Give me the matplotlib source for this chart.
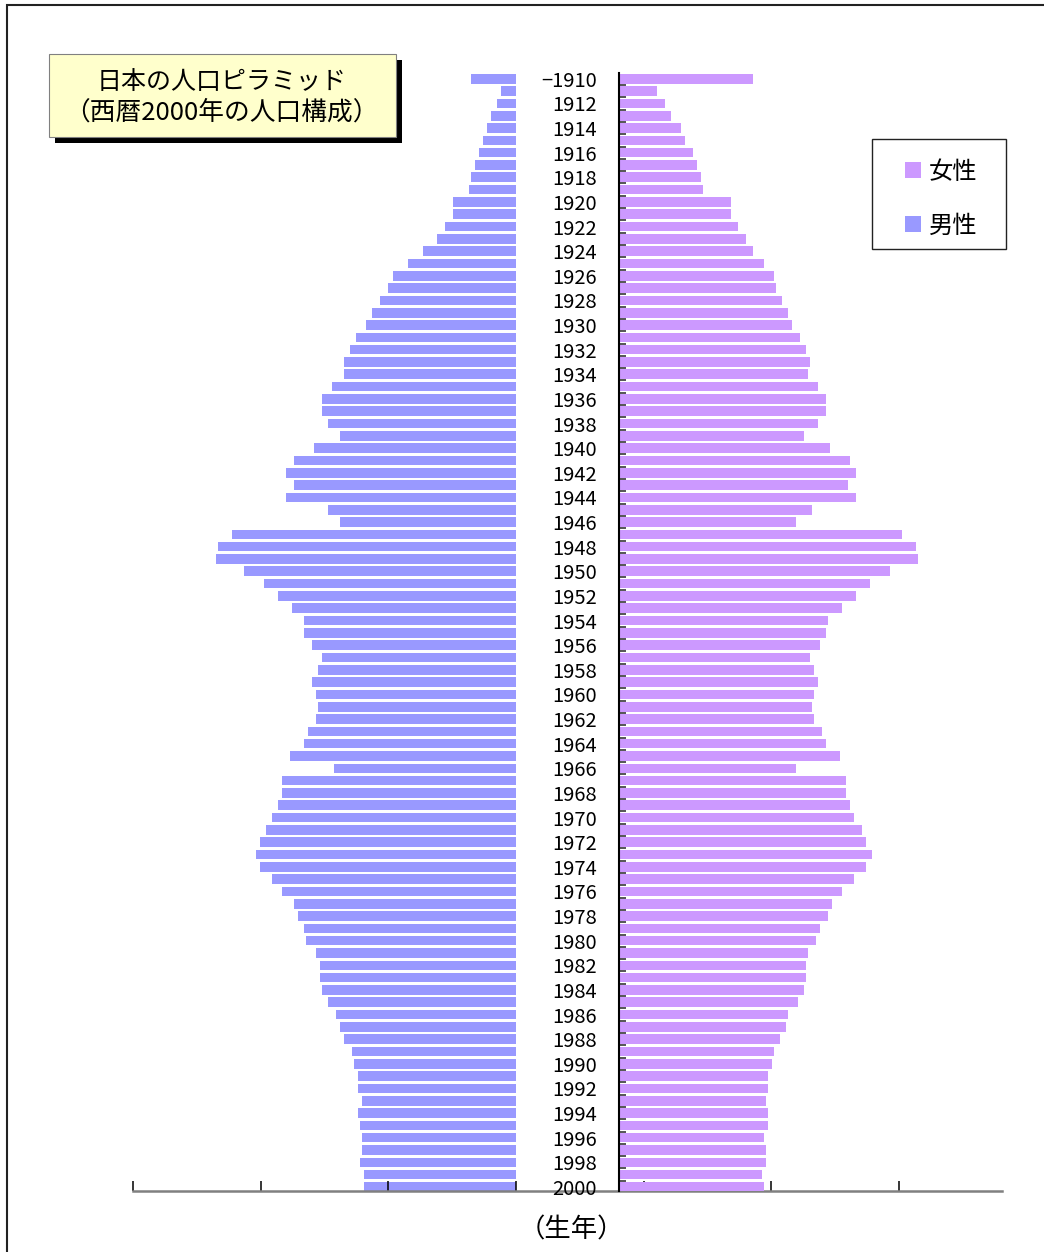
import numpy as np
import matplotlib
matplotlib.use("Agg")
from matplotlib import pyplot as plt
from matplotlib.patches import Rectangle

plt.rcParams['font.family'] = ['Noto Sans CJK JP', 'DejaVu Sans']

# birth year categories: "-1910" means 1910 and earlier
years = ["−1910"] + [str(y) for y in range(1911, 2001)]

# population in 2000 by birth year (thousands)
male = [176, 59, 74, 98, 113, 129, 144, 160, 176, 183,
        246, 246, 277, 308, 363, 425, 480, 503, 534, 566,
        589, 628, 651, 675, 675, 722, 761, 761, 737, 690,
        792, 870, 901, 870, 901, 737, 690, 1112, 1166, 1174,
        1065, 987, 932, 878, 831, 831, 800, 761, 776, 800,
        784, 776, 784, 815, 831, 885, 714, 917, 917, 932,
        956, 979, 1002, 1018, 1002, 956, 917, 870, 854, 831,
        823, 784, 768, 768, 761, 737, 706, 690, 675, 644,
        636, 620, 620, 605, 620, 612, 605, 605, 612, 597,
        597]
female = [523, 148, 179, 203, 242, 257, 289, 304, 320, 328,
          437, 437, 468, 499, 523, 569, 608, 616, 640, 663,
          679, 710, 733, 749, 741, 780, 811, 811, 780, 725,
          827, 905, 928, 897, 928, 757, 694, 1108, 1162, 1170,
          1061, 983, 928, 874, 819, 811, 788, 749, 764, 780,
          764, 757, 764, 796, 811, 866, 694, 889, 889, 905,
          920, 952, 967, 991, 967, 920, 874, 835, 819, 788,
          772, 741, 733, 733, 725, 702, 663, 655, 632, 608,
          601, 585, 585, 577, 585, 585, 569, 577, 577, 562,
          569]

male_color = '#9999FF'
female_color = '#CC99FF'

W, H = 1044, 1252


def fx(x):
    return x / W


def fy(y):
    return 1 - y / H


fig = plt.figure(figsize=(W / 100, H / 100), dpi=100)

rows = np.arange(len(years))
ylim = (len(years) - 1 + 0.33, -0.47)

# main axes: males to the left of zero, carries the bottom axis line and ticks
ax = fig.add_axes([fx(133), fy(1191), (1002 - 133) / W, (1191 - 73) / H])
ax.barh(rows, -np.array(male), height=0.78, color=male_color, label='男性')
ax.set_xlim(-1500, 1903)
ax.set_ylim(*ylim)
for s in ['left', 'right', 'top']:
    ax.spines[s].set_visible(False)
ax.spines['bottom'].set_color('#808080')
ax.spines['bottom'].set_linewidth(1.8)
ax.set_xticks(np.arange(-1500, 1501, 500))
ax.set_xticklabels([])
ax.tick_params(axis='x', direction='in', length=7, width=1.1, color='black')
ax.set_yticks([])

# year labels in the gap between the two halves
for i, label in enumerate(years):
    if i % 2 == 0:
        ax.text(317, i + 0.2, label, ha='right', va='center', fontsize=14.5, color='black')

# female axes: right half with its own vertical axis
axf = fig.add_axes([fx(619), fy(1191), (1002 - 619) / W, (1191 - 73) / H])
axf.patch.set_visible(False)
axf.barh(rows, female, height=0.78, color=female_color, label='女性')
axf.set_xlim(0, 1500)
axf.set_ylim(*ylim)
for s in ['right', 'top', 'bottom']:
    axf.spines[s].set_visible(False)
axf.spines['left'].set_color('black')
axf.spines['left'].set_linewidth(1.5)
axf.set_xticks([])
axf.set_yticks(rows[:-1] + 0.5)
axf.set_yticklabels([])
axf.tick_params(axis='y', direction='in', length=5, width=1.4, color='#555555')

# outer frame
fig.patches.append(Rectangle((fx(7), -0.1), 2, fy(5) + 0.1, transform=fig.transFigure,
                             fill=False, edgecolor='#222222', linewidth=1.5))

# title box with shadow
fig.patches.append(Rectangle((fx(55), fy(143)), (402 - 55) / W, (143 - 60) / H,
                             transform=fig.transFigure, facecolor='black', edgecolor='none'))
fig.patches.append(Rectangle((fx(49), fy(137)), (396 - 49) / W, (137 - 54) / H,
                             transform=fig.transFigure, facecolor='#FFFFCC',
                             edgecolor='#808080', linewidth=0.8))
fig.text(fx(222), fy(82), '日本の人口ピラミッド', ha='center', va='center', fontsize=18)
fig.text(fx(221), fy(113), '（西暦2000年の人口構成）', ha='center', va='center', fontsize=18.5)

# legend
fig.patches.append(Rectangle((fx(872), fy(249)), (1006 - 872) / W, (249 - 139) / H,
                             transform=fig.transFigure, facecolor='white',
                             edgecolor='#222222', linewidth=1.0))
for label, color, yc in [('女性', female_color, 170), ('男性', male_color, 224)]:
    fig.patches.append(Rectangle((fx(905), fy(yc + 8)), 16 / W, 16 / H,
                                 transform=fig.transFigure, facecolor=color, edgecolor='none'))
    fig.text(fx(929), fy(yc + 2), label, ha='left', va='center', fontsize=17.5)

fig.text(fx(571), fy(1230), '（生年）', ha='center', va='center', fontsize=19)

fig.savefig('out.png', dpi=100)
